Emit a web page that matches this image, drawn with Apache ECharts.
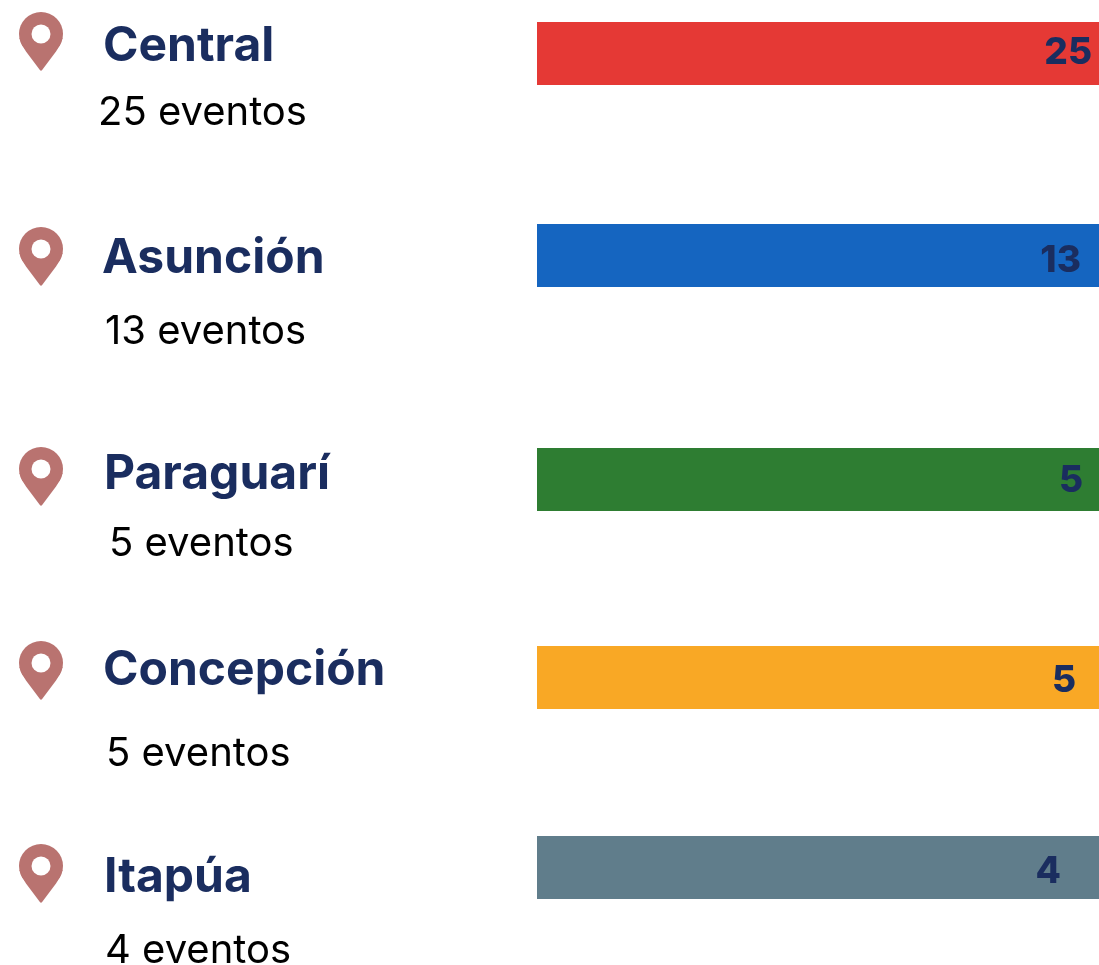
<!DOCTYPE html>
<html><head><meta charset="utf-8">
<style>html,body{margin:0;padding:0;background:#fff}#c{width:1099px;height:965px}</style>
<script src="https://cdn.jsdelivr.net/npm/echarts@6/dist/echarts.min.js"></script>
</head><body><div id="c"></div>
<script>
const categories = ['Central','Asunción','Paraguarí','Concepción','Itapúa'];
const values = [25,13,5,5,4];
const barColors = ['#e53935','#1565c0','#2e7d32','#f9a825','#607d8b'];
const unit = 'eventos';

// layout, per row
const barTop = [22,224,448,646,836];
const pinTop = [12,227,447,641,844];
const titleX = [103,102,104,103,104];
const titleY = [47,259,475,671,878];
const subX = [98,105,109,106,105];
const subY = [113,332,544,754,951];
const labelRight = [7,18,16,23,38];
const labelDy = [-1,5,1,3,4];
const NAVY = '#1a2d5f', PIN = '#b97370';
const FONT = 'Inter';

const chart = echarts.init(document.getElementById('c'), null, {renderer:'canvas'});
const grid=[], xAxis=[], yAxis=[], series=[], graphic=[];
categories.forEach((name,i)=>{
  grid.push({left:537,right:0,top:barTop[i],height:63,containLabel:false});
  xAxis.push({gridIndex:i,type:'value',min:0,max:4,show:false});
  yAxis.push({gridIndex:i,type:'category',data:[name],show:false});
  series.push({type:'bar',xAxisIndex:i,yAxisIndex:i,data:[values[i]],barWidth:'100%',clip:true,
    itemStyle:{color:barColors[i]},
    label:{show:true,position:'insideRight',distance:0,offset:[-labelRight[i],labelDy[i]],
      color:NAVY,fontFamily:FONT,fontWeight:800,fontSize:37}});
  const t=pinTop[i];
  graphic.push({type:'circle',shape:{cx:41,cy:t+22,r:22},style:{fill:PIN}});
  graphic.push({type:'polygon',shape:{points:[[19.4,t+26],[22,t+33],[26,t+39.5],[39.5,t+57.5],[41,t+59],[42.5,t+57.5],[56,t+39.5],[60,t+33],[62.6,t+26]]},style:{fill:PIN}});
  graphic.push({type:'circle',shape:{cx:41,cy:t+22,r:9.5},style:{fill:'#fff'}});
  graphic.push({type:'text',x:titleX[i],y:titleY[i],style:{text:name,fill:NAVY,font:'700 48px '+FONT,verticalAlign:'middle'}});
  graphic.push({type:'text',x:subX[i],y:subY[i],style:{text:values[i]+' '+unit,fill:'#000',font:'400 40px '+FONT,verticalAlign:'middle'}});
});
chart.setOption({animation:false,backgroundColor:'#fff',grid,xAxis,yAxis,series,graphic:{elements:graphic}});
</script></body></html>
